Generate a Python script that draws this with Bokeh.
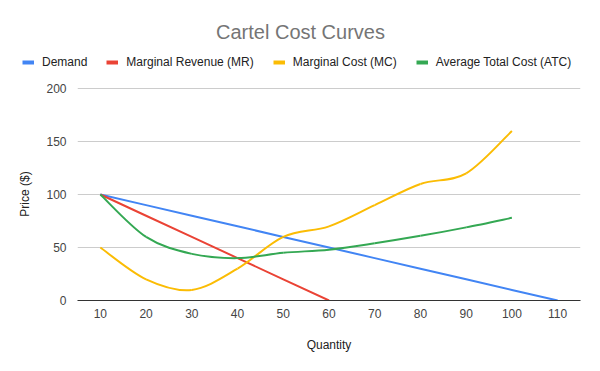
from bokeh.plotting import figure
from bokeh.layouts import column
from bokeh.models import (ColumnDataSource, Legend, LegendItem, FixedTicker,
                          Range1d, Label)
from bokeh.embed import file_html
from bokeh.resources import INLINE

# ---- data ----
quantity = [10, 20, 30, 40, 50, 60, 70, 80, 90, 100, 110]
demand = [100, 90, 80, 70, 60, 50, 40, 30, 20, 10, 0]

mr_quantity = [10, 20, 30, 40, 50, 60]
marginal_revenue = [100, 80, 60, 40, 20, 0]

cost_quantity = [10, 20, 30, 40, 50, 60, 70, 80, 90, 100]
marginal_cost = [50, 20, 10, 30, 60, 70, 90, 110, 120, 160]
average_total_cost = [100, 60, 44, 40, 45, 48, 54, 61, 69, 78]

series_names = ["Demand", "Marginal Revenue (MR)", "Marginal Cost (MC)",
                "Average Total Cost (ATC)"]
colors = ["#4285F4", "#EA4335", "#FBBC04", "#34A853"]

x_ticks = quantity
y_ticks = [0, 50, 100, 150, 200]

FONT = "Liberation Sans"
W = 592
HEADER_H = 80


def smooth_source(xs, ys):
    """Cubic Bezier segments (Catmull-Rom style) through the data points."""
    n = len(xs)
    d = dict(x0=[], y0=[], x1=[], y1=[], cx0=[], cy0=[], cx1=[], cy1=[])
    for i in range(n - 1):
        x0, y0 = xs[i], ys[i]
        x1, y1 = xs[i + 1], ys[i + 1]
        xp, yp = (xs[i - 1], ys[i - 1]) if i > 0 else (x0, y0)
        xn, yn = (xs[i + 2], ys[i + 2]) if i + 2 < n else (x1, y1)
        d["x0"].append(x0); d["y0"].append(y0)
        d["x1"].append(x1); d["y1"].append(y1)
        d["cx0"].append(x0 + (x1 - xp) / 6.0)
        d["cy0"].append(y0 + (y1 - yp) / 6.0)
        d["cx1"].append(x1 - (xn - x0) / 6.0)
        d["cy1"].append(y1 - (yn - y0) / 6.0)
    return ColumnDataSource(d)


# ---- header: title + legend ----
header = figure(width=W, height=HEADER_H, output_backend="svg",
                toolbar_location=None, x_axis_type=None, y_axis_type=None,
                x_range=Range1d(0, 1), y_range=Range1d(0, 1),
                min_border=0, min_border_left=0, min_border_right=0,
                min_border_top=0, min_border_bottom=0, title=None)
header.frame_align = False
header.outline_line_color = None
header.xgrid.visible = False
header.ygrid.visible = False

series_x = [quantity, mr_quantity, cost_quantity, cost_quantity]
series_y = [demand, marginal_revenue, marginal_cost, average_total_cost]
items = []
for name, c, xs, ys in zip(series_names, colors, series_x, series_y):
    r = header.line(xs, ys, line_color=c, line_width=4, visible=False)
    items.append(LegendItem(label=name, renderers=[r]))
legend = Legend(items=items, orientation="horizontal", location=(22, 8),
                glyph_width=12, glyph_height=20, label_height=20,
                label_standoff=8, spacing=19,
                padding=0, margin=0, border_line_color=None,
                background_fill_alpha=0,
                label_text_font=FONT, label_text_font_size="12px",
                label_text_color="#222222")
header.add_layout(legend)

title = Label(x=300, y=HEADER_H - 31.5, x_units="screen", y_units="screen",
              text="Cartel Cost Curves", text_align="center",
              text_baseline="middle", text_font=FONT, text_font_size="20px",
              text_color="#757575")
header.add_layout(title)

# ---- main chart ----
p = figure(width=W, height=363 - HEADER_H, output_backend="svg",
           toolbar_location=None,
           x_range=Range1d(5, 115), y_range=Range1d(0, 201),
           min_border_left=77, min_border_right=12, min_border_top=7,
           min_border_bottom=63, title=None)
p.frame_align = False
p.outline_line_color = None
p.background_fill_color = "white"
p.border_fill_color = "white"

p.xaxis.ticker = FixedTicker(ticks=x_ticks)
p.yaxis.ticker = FixedTicker(ticks=y_ticks)
p.xgrid.grid_line_color = None
p.ygrid.grid_line_color = "#cccccc"
p.ygrid.grid_line_width = 1
for ax in (p.xaxis, p.yaxis):
    ax.major_tick_line_color = None
    ax.minor_tick_line_color = None
    ax.major_label_text_font = FONT
    ax.major_label_text_font_size = "12px"
    ax.major_label_text_color = "#444444"
    ax.axis_label_text_font = FONT
    ax.axis_label_text_font_size = "12px"
    ax.axis_label_text_font_style = "normal"
    ax.axis_label_text_color = "#222222"
p.xaxis.axis_line_color = "#333333"
p.xaxis.axis_line_width = 1.2
p.yaxis.axis_line_color = None
p.xaxis.axis_label = "Quantity"
p.yaxis.axis_label = "Price ($)"
p.xaxis.major_label_standoff = 2
p.xaxis.axis_label_standoff = 17
p.yaxis.major_label_standoff = 5
p.yaxis.axis_label_standoff = 11

p.line(quantity, demand, line_color=colors[0], line_width=2)
p.line(mr_quantity, marginal_revenue, line_color=colors[1], line_width=2)
p.bezier(x0="x0", y0="y0", x1="x1", y1="y1", cx0="cx0", cy0="cy0",
         cx1="cx1", cy1="cy1", source=smooth_source(cost_quantity, marginal_cost),
         line_color=colors[2], line_width=2)
p.bezier(x0="x0", y0="y0", x1="x1", y1="y1", cx0="cx0", cy0="cy0",
         cx1="cx1", cy1="cy1",
         source=smooth_source(cost_quantity, average_total_cost),
         line_color=colors[3], line_width=2)

layout = column(header, p, spacing=0)
open("out.html", "w").write(file_html(layout, INLINE))
